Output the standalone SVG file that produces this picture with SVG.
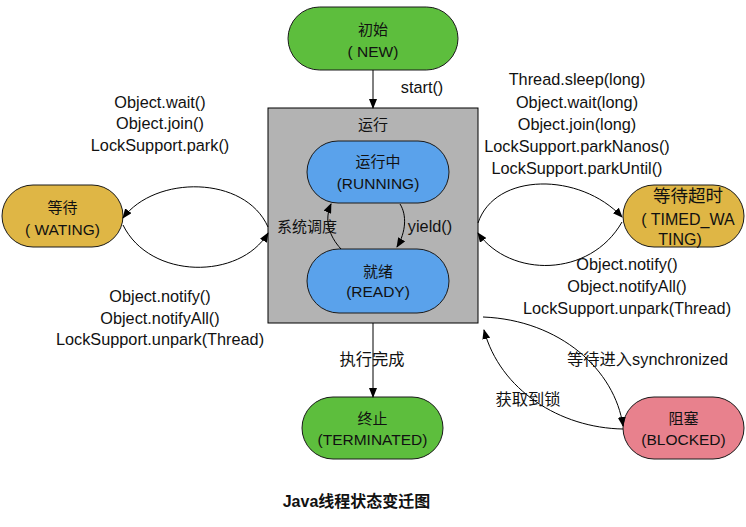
<svg xmlns="http://www.w3.org/2000/svg" width="746" height="527" viewBox="0 0 746 527">
<defs>
<marker id="arr" markerUnits="userSpaceOnUse" markerWidth="10" markerHeight="8" refX="9" refY="4" orient="auto">
<path d="M0,0 L10,4 L0,8 Z" fill="#000"/>
</marker>
<style>
text{font-family:"Liberation Sans","Noto Sans CJK SC",sans-serif;fill:#111;text-anchor:middle}
.lbl{font-size:16.3px}
.cj{font-size:15px}
.lt{font-size:15.5px}
.node{stroke:#1a1a1a;stroke-width:1}
.green{fill:#5DBE3D}
.blue{fill:#5AA2EB}
.yellow{fill:#DFB645}
.pink{fill:#E8818D}
.conn path{fill:none;stroke:#000;stroke-width:1;marker-end:url(#arr)}
.title{font-size:16px;font-weight:bold}
</style>
</defs>
<rect width="746" height="527" fill="#fff"/>

<g id="running-box">
<rect x="268" y="108" width="210" height="215" fill="#B3B3B3" stroke="#000" stroke-width="1"/>
<text class="cj" x="373" y="130">运行</text>
</g>

<g id="node-new">
<rect class="node green" x="288" y="7" width="170" height="63" rx="31.5"/>
<text class="cj" x="373" y="35">初始</text>
<text class="lt" x="373" y="57">( NEW)</text>
</g>

<g id="node-running">
<rect class="node blue" x="307" y="141" width="142" height="62" rx="31"/>
<text class="cj" x="378" y="167">运行中</text>
<text class="lt" x="378" y="188.5">(RUNNING)</text>
</g>

<g id="node-ready">
<rect class="node blue" x="307" y="249" width="142" height="64" rx="32"/>
<text class="cj" x="378" y="277">就绪</text>
<text class="lt" x="378" y="297">(READY)</text>
</g>

<g id="node-waiting">
<rect class="node yellow" x="2" y="185" width="121" height="62" rx="31"/>
<text class="cj" x="62.5" y="212.5">等待</text>
<text class="lt" x="62.5" y="235">( WATING)</text>
</g>

<g id="node-timed-waiting">
<rect class="node yellow" x="623" y="185" width="121" height="62" rx="31"/>
<text x="688" y="202" style="font-size:17.5px">等待超时</text>
<text x="688" y="225" style="font-size:16px">( TIMED_WA</text>
<text x="680" y="245" style="font-size:16px">TING)</text>
</g>

<g id="node-terminated">
<rect class="node green" x="302" y="397" width="141" height="62" rx="31"/>
<text class="cj" x="372.5" y="423.5">终止</text>
<text class="lt" x="372.5" y="445">(TERMINATED)</text>
</g>

<g id="node-blocked">
<rect class="node pink" x="623" y="397" width="121" height="62" rx="31"/>
<text class="cj" x="683.5" y="423.5">阻塞</text>
<text class="lt" x="683.5" y="445">(BLOCKED)</text>
</g>

<g id="connectors" class="conn">
<path d="M373,70 L373,108"/>
<path d="M373,323 L373,397"/>
<path d="M341,249 C329,236 324,220 331,204"/>
<path d="M400,204 C407,215 406,232 397,247"/>
<path d="M268,227 C245,175 155,175 123,218"/>
<path d="M123,225 C150,280 240,280 268,233"/>
<path d="M478,223 C495,172 580,172 622,217"/>
<path d="M622,222 C590,278 510,278 478,233"/>
<path d="M483,317 C560,320 615,370 623,426"/>
<path d="M623,429 C560,428 500,390 484,330"/>
</g>

<g id="labels">
<text class="lbl" x="422" y="93">start()</text>
<text class="cj" x="307" y="232">系统调度</text>
<text class="lbl" x="430" y="232">yield()</text>
<text class="lbl" x="160" y="107.5">Object.wait()</text>
<text class="lbl" x="160" y="129">Object.join()</text>
<text class="lbl" x="160" y="151">LockSupport.park()</text>
<text class="lbl" x="160" y="302">Object.notify()</text>
<text class="lbl" x="160" y="323.5">Object.notifyAll()</text>
<text class="lbl" x="160" y="345">LockSupport.unpark(Thread)</text>
<text class="lbl" x="577" y="85">Thread.sleep(long)</text>
<text class="lbl" x="577" y="107.5">Object.wait(long)</text>
<text class="lbl" x="577" y="130">Object.join(long)</text>
<text class="lbl" x="577" y="152">LockSupport.parkNanos()</text>
<text class="lbl" x="577" y="173.5">LockSupport.parkUntil()</text>
<text class="lbl" x="627" y="270">Object.notify()</text>
<text class="lbl" x="627" y="292">Object.notifyAll()</text>
<text class="lbl" x="627" y="314">LockSupport.unpark(Thread)</text>
<text class="lbl" x="372" y="364.5">执行完成</text>
<text class="lbl" x="647.5" y="364.5">等待进入synchronized</text>
<text class="lbl" x="528" y="405">获取到锁</text>
<text class="title" x="356.5" y="507">Java线程状态变迁图</text>
</g>
</svg>
